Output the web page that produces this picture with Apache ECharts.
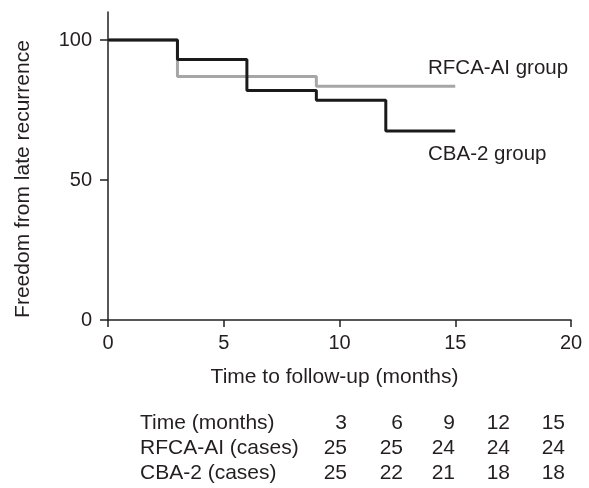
<!DOCTYPE html>
<html>
<head>
<meta charset="utf-8">
<script src="https://cdn.jsdelivr.net/npm/echarts@6/dist/echarts.min.js"></script>
<style>
  html, body { margin: 0; padding: 0; background: #fff; }
  #container { width: 589px; height: 488px; }
</style>
</head>
<body>
<div id="container"></div>
<script>
// survival steps (months, %)
var rfcaTimes = [0, 3, 9, 15];
var rfcaValues = [100, 87, 83.5, 83.5];
var cbaTimes = [0, 3, 6, 9, 12, 15];
var cbaValues = [100, 93, 82, 78.5, 67.5, 67.5];

// number at risk table
var tableTimes = [3, 6, 9, 12, 15];
var rfcaCases = [25, 25, 24, 24, 24];
var cbaCases = [25, 22, 21, 18, 18];
var tableRowNames = ['Time (months)', 'RFCA-AI (cases)', 'CBA-2 (cases)'];

var font = 'Liberation Sans, Arial, sans-serif';
var ink = '#231f20';

function zip(xs, ys) {
    return xs.map(function (x, i) { return [x, ys[i]]; });
}

var myChart = echarts.init(document.getElementById('container'));

// table text, columns right aligned
var colRight = [347, 403, 455, 510, 565];
var rowTop = [413, 438, 463];
var tableRows = [tableTimes, rfcaCases, cbaCases];
var graphics = [];
tableRowNames.forEach(function (name, r) {
    graphics.push({
        type: 'text', x: 140, y: rowTop[r],
        style: { text: name, font: '21px ' + font, fill: ink }
    });
    tableRows[r].forEach(function (v, c) {
        graphics.push({
            type: 'text', x: colRight[c], y: rowTop[r],
            style: { text: String(v), font: '21px ' + font, fill: ink, align: 'right' }
        });
    });
});
graphics.push({
    type: 'text', x: 428, y: 58,
    style: { text: 'RFCA-AI group', font: '20.5px ' + font, fill: ink }
});
graphics.push({
    type: 'text', x: 428, y: 144,
    style: { text: 'CBA-2 group', font: '20.5px ' + font, fill: ink }
});

var tickText = { color: ink, fontSize: 20, fontFamily: font };

myChart.setOption({
    animation: false,
    grid: { left: 108, right: 18, top: 12, bottom: 168 },
    xAxis: {
        type: 'value', min: 0, max: 20, interval: 5,
        name: 'Time to follow-up (months)',
        nameLocation: 'middle', nameGap: 47,
        nameTextStyle: { color: ink, fontSize: 21, fontFamily: font, padding: [0, 10, 0, 0] },
        axisLine: { lineStyle: { color: ink, width: 1.5 } },
        axisTick: { show: true, length: 7, lineStyle: { color: ink, width: 1.5 } },
        axisLabel: Object.assign({ margin: 13 }, tickText),
        splitLine: { show: false }
    },
    yAxis: {
        type: 'value', min: 0, max: 110, interval: 50,
        name: 'Freedom from late recurrence',
        nameLocation: 'middle', nameGap: 74,
        nameTextStyle: { color: ink, fontSize: 21, fontFamily: font, padding: [0, 26, 0, 0] },
        axisLine: { show: true, lineStyle: { color: ink, width: 1.5 } },
        axisTick: { show: true, length: 8, lineStyle: { color: ink, width: 1.5 } },
        axisLabel: Object.assign({ margin: 16, showMaxLabel: false }, tickText),
        splitLine: { show: false }
    },
    series: [
        {
            name: 'RFCA-AI', type: 'line', step: 'end', symbol: 'none',
            data: zip(rfcaTimes, rfcaValues),
            lineStyle: { color: '#a6a6a6', width: 3 }
        },
        {
            name: 'CBA-2', type: 'line', step: 'end', symbol: 'none',
            data: zip(cbaTimes, cbaValues),
            lineStyle: { color: '#1a1a1a', width: 3 }
        }
    ],
    graphic: graphics
});
</script>
</body>
</html>
